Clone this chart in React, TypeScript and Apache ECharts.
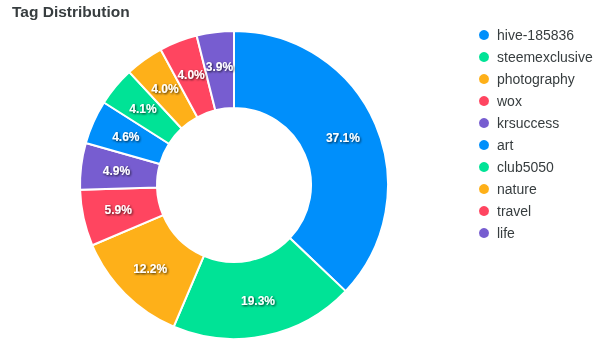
import React, { useEffect, useRef } from "react";
import * as echarts from "echarts";

const tags = ["hive-185836", "steemexclusive", "photography", "wox", "krsuccess", "art", "club5050", "nature", "travel", "life"];
const shares = [37.1, 19.3, 12.2, 5.9, 4.9, 4.6, 4.1, 4.0, 4.0, 3.9];
const palette = ["#008FFB", "#00E396", "#FEB019", "#FF4560", "#775DD0"];

const FONT = "'Liberation Sans', Arial, Helvetica, sans-serif";

export default function App() {
  const ref = useRef<HTMLDivElement>(null);
  useEffect(() => {
    if (!ref.current) return;
    const chart = echarts.init(ref.current, undefined, { renderer: "svg" });
    chart.setOption({
      animation: false,
      color: palette,
      textStyle: { fontFamily: FONT },
      title: {
        text: "Tag Distribution",
        left: 12,
        top: 3,
        padding: 0,
        textStyle: { fontFamily: FONT, fontSize: 15.5, fontWeight: "bold", color: "#373d3f" },
      },
      legend: {
        orient: "vertical",
        left: 477,
        top: 28,
        padding: 0,
        icon: "circle",
        itemWidth: 16,
        itemHeight: 12,
        itemGap: 8,
        textStyle: { fontFamily: FONT, fontSize: 14, color: "#373d3f" },
        data: tags,
      },
      series: [
        {
          type: "pie",
          center: [234, 185],
          radius: [77, 154],
          startAngle: 90,
          clockwise: true,
          avoidLabelOverlap: false,
          itemStyle: { borderColor: "#fff", borderWidth: 2 },
          label: {
            show: true,
            position: "inside",
            formatter: (p: any) => p.value.toFixed(1) + "%",
            fontFamily: FONT,
            fontSize: 12,
            fontWeight: "bold",
            color: "#fff",
            textShadowColor: "rgba(0,0,0,0.8)",
            textShadowBlur: 2,
            textShadowOffsetX: 1,
            textShadowOffsetY: 1,
          },
          labelLine: { show: false },
          emphasis: { disabled: true },
          data: tags.map((t, i) => ({ name: t, value: shares[i] })),
        },
      ],
    });
    return () => chart.dispose();
  }, []);
  return <div ref={ref} style={{ position: "fixed", left: 0, top: 0, width: 615, height: 352 }} />;
}
